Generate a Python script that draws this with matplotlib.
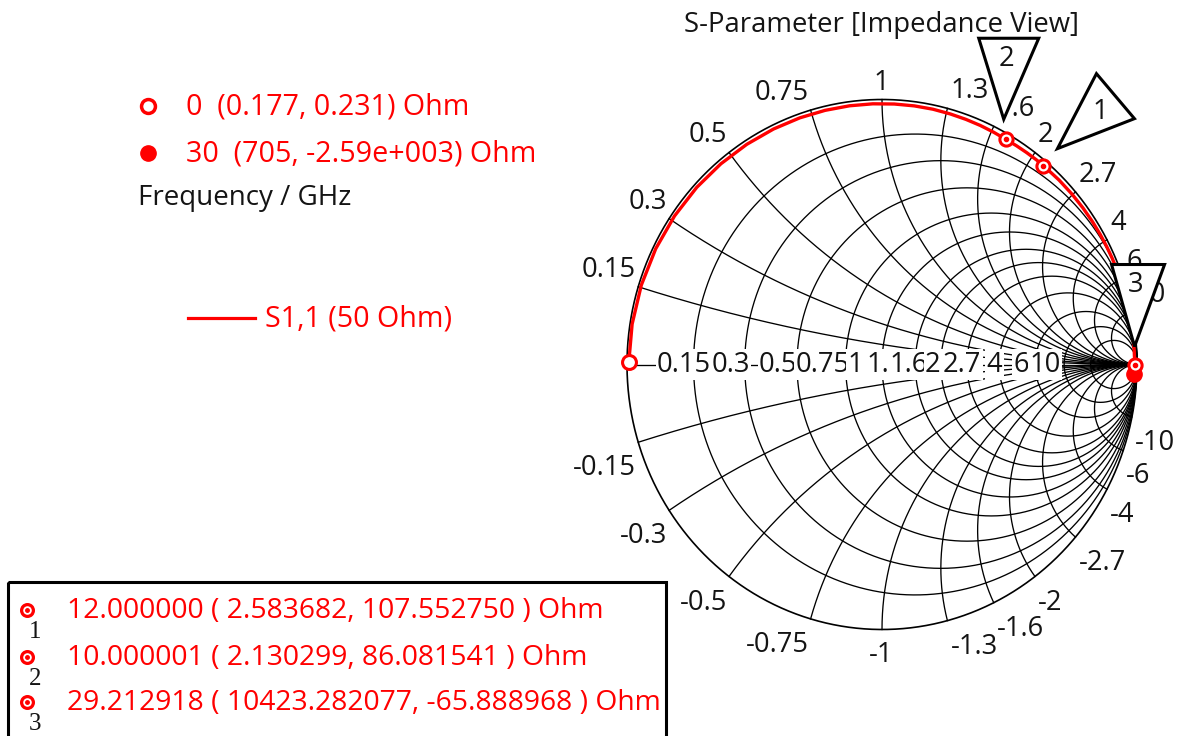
import numpy as np
import matplotlib
matplotlib.use("Agg")
import matplotlib.pyplot as plt
from matplotlib.patches import Polygon, Rectangle
import matplotlib.transforms as mtransforms

plt.rcParams['font.family'] = ['Open Sans', 'DejaVu Sans']

# ---------------- data ----------------
freq_ghz = [0, 0.5, 1, 1.5, 2, 2.5, 3, 3.5, 4, 4.5, 5, 5.5, 6, 6.5, 7, 7.5, 8, 8.5,
            9, 9.5, 10, 10.5, 11, 11.5, 12, 13, 14, 15, 16, 17, 18, 19, 20, 21, 22,
            23, 24, 25, 26, 27, 27.5, 28, 28.4, 28.7, 28.9, 29.05, 29.21, 29.35,
            29.5, 29.7, 29.85, 30]
s11_res_ohm = [0.177, 0.21, 0.25, 0.29, 0.33, 0.37, 0.42, 0.47, 0.52, 0.57, 0.63,
               0.69, 0.76, 0.84, 0.92, 1.02, 1.2, 1.38, 1.58, 1.84, 2.13, 2.24, 2.35,
               2.46, 2.58, 2.9, 3.3, 3.8, 4.4, 5.1, 6.0, 7.1, 8.5, 10.3, 12.6, 15.6,
               19.5, 26, 42, 90, 160, 320, 700, 1500, 3200, 6000, 10423, 8400, 4600,
               1900, 1100, 705]
s11_reac_ohm = [0.231, 3.87, 7.75, 11.65, 15.55, 19.5, 23.4, 27.4, 31.5, 35.6, 39.7,
                43.9, 48.2, 52.5, 56.9, 61.4, 66.1, 70.8, 75.7, 80.8, 86.08, 91.3,
                96.7, 102.7, 107.55, 120.5, 134.6, 150, 168, 187, 209, 234, 263, 297,
                340, 393, 460, 545, 680, 950, 1250, 1800, 2600, 3700, 4600, 4700,
                -65.9, -3900, -4900, -3800, -3100, -2590]
ref_impedance = 50.0

marker_names = ["1", "2", "3"]
marker_freq_ghz = [12.000000, 10.000001, 29.212918]
marker_res_ohm = [2.583682, 2.130299, 10423.282077]
marker_reac_ohm = [107.552750, 86.081541, -65.888968]

grid_values = [0.15, 0.3, 0.5, 0.75, 1, 1.3, 1.6, 2, 2.7, 4, 6, 10]
grid_labels = ["0.15", "0.3", "0.5", "0.75", "1", "1.3", "1.6", "2", "2.7", "4", "6", "10"]

title = "S-Parameter [Impedance View]"
trace_name = "S1,1 (50 Ohm)"
axis_quantity = "Frequency / GHz"

# ---------------- helpers ----------------
def to_gamma(z):
    return (z - 1) / (z + 1)

def cst_g(v):
    s = f"{v:.3g}"
    if 'e' in s:
        mant, ex = s.split('e')
        s = f"{mant}e{ex[0]}{int(ex[1:]):03d}"
    return s

RED = '#ff0000'
TXT = '#141414'
FS = 19.7

W, H, DPI = 1177, 736, 100
fig = plt.figure(figsize=(W / DPI, H / DPI), dpi=DPI)

# background axes in pixel coordinates (legends, title)
bg = fig.add_axes([0, 0, 1, 1])
bg.set_xlim(0, W)
bg.set_ylim(H, 0)
bg.axis('off')

# chart axes in reflection-coefficient coordinates
CX, CY, RX, RY = 882, 364.5, 255, 265
ax = fig.add_axes([(CX - RX) / W, (H - CY - RY) / H, 2 * RX / W, 2 * RY / H])
ax.set_xlim(-1, 1)
ax.set_ylim(-1, 1)
ax.axis('off')
ax.patch.set_alpha(0)

# ---------------- grid ----------------
GRID = dict(color='black', lw=0.95, zorder=1)
th = np.linspace(0, 2 * np.pi, 1441)
ax.plot(np.cos(th), np.sin(th), color='black', lw=1.2, zorder=1, clip_on=False)
ax.plot([-1, 1], [0, 0], clip_on=False, **GRID)
for v in grid_values:
    c, a = v / (1 + v), 1 / (1 + v)
    ax.plot(c + a * np.cos(th), a * np.sin(th), clip_on=False, **GRID)
rr = np.concatenate([[0], np.geomspace(1e-3, 1e5, 1500)])
for v in grid_values:
    for s in (1, -1):
        g = to_gamma(rr + 1j * s * v)
        ax.plot(g.real, g.imag, clip_on=False, **GRID)

# real-axis labels
for v, lab in zip(grid_values, grid_labels):
    c = (v - 1) / (v + 1)
    ax.text(0.909 * c - 0.104, 0, lab, ha='center', va='center', fontsize=FS,
            color=TXT, zorder=2, clip_on=False,
            bbox=dict(boxstyle='square,pad=0.05', fc='white', ec='none'))

# rim labels
PT = 72.0 / DPI
for v, lab in zip(grid_values, grid_labels):
    for s in (1, -1):
        g = to_gamma(1j * s * v)
        if abs(g.real) < 1e-6:
            ha, dx = 'center', -1
        elif g.real < 0:
            ha, dx = 'right', -2
        else:
            ha, dx = 'left', 3
        if s > 0:
            va, dy = 'baseline', 10
        else:
            va, dy = 'top', -12
        txt = lab if s > 0 else '-' + lab
        ax.annotate(txt, (g.real, g.imag), xytext=(dx * PT, dy * PT),
                    textcoords='offset points', ha=ha, va=va, fontsize=FS,
                    color=TXT, zorder=2, annotation_clip=False)

# ---------------- trace ----------------
z = (np.array(s11_res_ohm) + 1j * np.array(s11_reac_ohm)) / ref_impedance
gt = to_gamma(z)
ax.plot(gt.real, gt.imag, color=RED, lw=2.4, zorder=4, clip_on=False,
        solid_joinstyle='round')
ax.plot(gt.real[-1], gt.imag[-1], 'o', ms=11, color=RED, zorder=5, clip_on=False)
ax.plot(gt.real[0], gt.imag[0], 'o', ms=10, mfc='white', mec=RED, mew=2.2,
        zorder=5, clip_on=False)

mz = (np.array(marker_res_ohm) + 1j * np.array(marker_reac_ohm)) / ref_impedance
mg = to_gamma(mz)
ax.plot(mg.real, mg.imag, 'o', ls='none', ms=9.5, mfc='white', mec=RED, mew=2.2,
        zorder=6, clip_on=False)
ax.plot(mg.real, mg.imag, 'o', ls='none', ms=3, color=RED, zorder=6.1, clip_on=False)

# marker flags (pixel offsets relative to marker, x right / y up)
flag_shapes = {
    "1": ([(14, 17), (53, 92), (91, 47)], (57, 54)),
    "2": ([(-27, 101), (33, 101), (-2, 20)], (1, 80)),
    "3": ([(-23, 100), (30, 100), (0, 18)], (1, 80)),
}
for name, gx, gy in zip(marker_names, mg.real, mg.imag):
    verts, tpos = flag_shapes[name]
    tr = fig.dpi_scale_trans + mtransforms.ScaledTranslation(gx, gy, ax.transData)
    ax.add_patch(Polygon(np.array(verts, float) / DPI, closed=True, fc='white',
                         ec='black', lw=2.2, joinstyle='miter', transform=tr,
                         zorder=7, clip_on=False))
    ax.text(tpos[0] / DPI, tpos[1] / DPI, name, transform=tr, ha='center',
            va='center', fontsize=FS, color=TXT, zorder=8)

# ---------------- title & legends (pixel coords) ----------------
bg.text(882, 25, title, ha='center', va='center', fontsize=19.8, color=TXT)

LEG_FS = 20.6
bg.plot(148, 106, 'o', ms=10, mfc='white', mec=RED, mew=2.5)
bg.text(186, 107, f"{freq_ghz[0]:g}  ({cst_g(s11_res_ohm[0])}, {cst_g(s11_reac_ohm[0])}) Ohm",
        ha='left', va='center', fontsize=LEG_FS, color=RED)
bg.plot(148, 153, 'o', ms=11, color=RED)
bg.text(186, 154, f"{freq_ghz[-1]:g}  ({cst_g(s11_res_ohm[-1])}, {cst_g(s11_reac_ohm[-1])}) Ohm",
        ha='left', va='center', fontsize=LEG_FS, color=RED)
bg.text(138, 198, axis_quantity, ha='left', va='center', fontsize=20, color=TXT)
bg.plot([188, 255], [318, 318], color=RED, lw=2.3)
bg.text(265, 319, trace_name, ha='left', va='center', fontsize=LEG_FS, color=RED)

# marker table box
bg.add_patch(Rectangle((8, 582), 658, 180, fill=False, ec='black', lw=2.2))
row_y = [611, 658, 703]
for name, f, r, x, yy in zip(marker_names, marker_freq_ghz, marker_res_ohm,
                             marker_reac_ohm, row_y):
    bg.plot(27, yy - 1, 'o', ms=8.5, mfc='white', mec=RED, mew=2.3)
    bg.plot(27, yy - 1, 'o', ms=2.5, color=RED)
    bg.text(35, yy + 21, name, ha='center', va='center', fontsize=18,
            color=TXT, family=['Liberation Serif', 'DejaVu Serif'])
    bg.text(67, yy, f"{f:.6f} ( {r:.6f}, {x:.6f} ) Ohm", ha='left', va='center',
            fontsize=20.3, color=RED)

fig.savefig('out.png', dpi=DPI)
